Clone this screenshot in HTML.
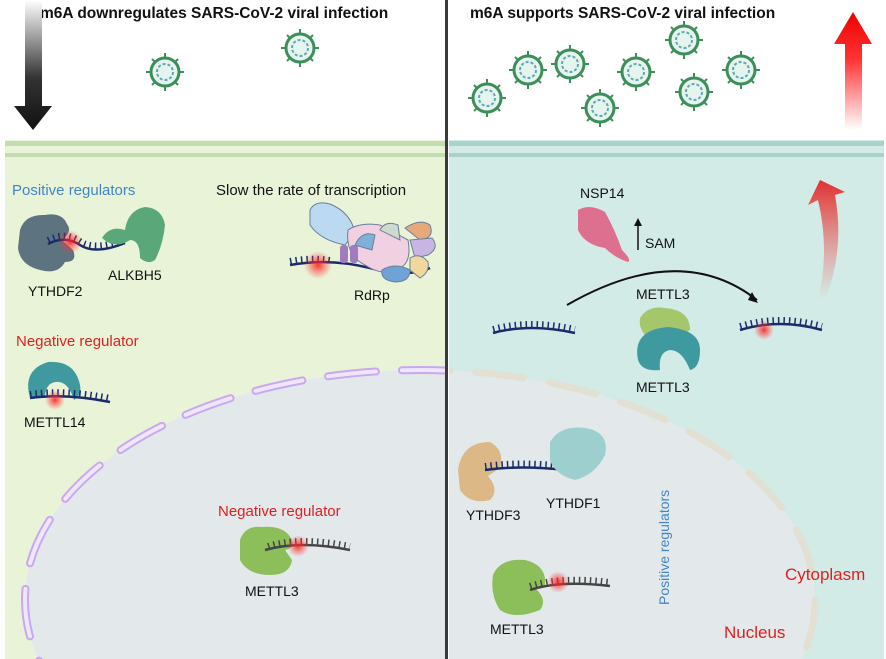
<!DOCTYPE html>
<html><head><meta charset="utf-8"><style>
html,body{margin:0;padding:0;background:#fff;width:886px;height:659px;overflow:hidden}
svg{display:block}
text{font-family:"Liberation Sans",sans-serif}
</style></head><body>
<svg width="886" height="659" viewBox="0 0 886 659" xmlns="http://www.w3.org/2000/svg">
<defs>
<radialGradient id="glow"><stop offset="0" stop-color="#ff2020" stop-opacity="0.9"/><stop offset="1" stop-color="#ff4040" stop-opacity="0"/></radialGradient>
<linearGradient id="down" x1="0" y1="0" x2="0" y2="1"><stop offset="0" stop-color="#fff"/><stop offset="0.6" stop-color="#333"/><stop offset="1" stop-color="#111"/></linearGradient>
<linearGradient id="up" x1="0" y1="1" x2="0" y2="0"><stop offset="0" stop-color="#fff"/><stop offset="0.6" stop-color="#f33"/><stop offset="1" stop-color="#e00"/></linearGradient>
<linearGradient id="curv" x1="0" y1="1" x2="0" y2="0"><stop offset="0" stop-color="#f06060" stop-opacity="0"/><stop offset="1" stop-color="#e03030"/></linearGradient>
<clipPath id="lc"><rect x="5" y="140" width="440" height="519"/></clipPath>
<clipPath id="rc"><rect x="449" y="140" width="435" height="519"/></clipPath>
<g id="vir"><circle r="14" fill="#e6f4f0" stroke="#3d8f5a" stroke-width="3"/><circle r="8" fill="none" stroke="#5fa8b0" stroke-width="2" stroke-dasharray="3 2"/>
<g stroke="#3d8f5a" stroke-width="2"><line x1="0" y1="-14" x2="0" y2="-19"/><line x1="0" y1="14" x2="0" y2="19"/><line x1="-14" y1="0" x2="-19" y2="0"/><line x1="14" y1="0" x2="19" y2="0"/><line x1="10" y1="10" x2="13" y2="13"/><line x1="-10" y1="10" x2="-13" y2="13"/><line x1="10" y1="-10" x2="13" y2="-13"/><line x1="-10" y1="-10" x2="-13" y2="-13"/></g></g>
</defs>
<rect width="886" height="659" fill="#fff"/>
<rect x="5" y="140" width="440" height="519" fill="#e9f3d8"/>
<rect x="449" y="140" width="435" height="519" fill="#d3ebe6"/>
<rect x="5" y="141" width="440" height="5" fill="#c3dcb1"/><rect x="5" y="153" width="440" height="4" fill="#c3dcb1"/>
<rect x="449" y="141" width="435" height="5" fill="#a9d3c8"/><rect x="449" y="153" width="435" height="4" fill="#a9d3c8"/>
<!-- nucleus -->
<g clip-path="url(#lc)"><ellipse cx="420" cy="600" rx="395" ry="230" fill="#e3e9eb"/>
<ellipse cx="420" cy="600" rx="395" ry="230" fill="none" stroke="#c9a8ef" stroke-width="8" stroke-linecap="round" stroke-dasharray="48 26"/>
<ellipse cx="420" cy="600" rx="395" ry="230" fill="none" stroke="#efe6fb" stroke-width="4" stroke-linecap="round" stroke-dasharray="48 26"/></g>
<g clip-path="url(#rc)"><ellipse cx="420" cy="600" rx="395" ry="230" fill="#e3e9eb"/>
<ellipse cx="420" cy="600" rx="395" ry="230" fill="none" stroke="#e2e0d2" stroke-width="7" stroke-linecap="round" stroke-dasharray="48 26"/></g>
<rect x="445" y="0" width="3" height="659" fill="#3a3a3a"/>
<text x="40" y="18" font-size="15.5" font-weight="bold" fill="#111">m6A downregulates SARS-CoV-2 viral infection</text>
<text x="470" y="18" font-size="15.5" font-weight="bold" fill="#111">m6A supports SARS-CoV-2 viral infection</text>
<path d="M25 0 H42 V106 H52 L33 130 L14 106 H25 Z" fill="url(#down)"/>
<path d="M845 40 H862 V130 H845 Z M834 44 L853 12 L872 44 Z" fill="url(#up)"/>
<use href="#vir" x="165" y="72"/><use href="#vir" x="300" y="48"/>
<use href="#vir" x="487" y="98"/><use href="#vir" x="528" y="70"/><use href="#vir" x="570" y="64"/>
<use href="#vir" x="600" y="108"/><use href="#vir" x="636" y="72"/><use href="#vir" x="684" y="40"/>
<use href="#vir" x="694" y="92"/><use href="#vir" x="741" y="70"/>
<text x="12" y="195" font-size="15" fill="#3f86c8">Positive regulators</text>
<text x="216" y="195" font-size="15" fill="#111">Slow the rate of transcription</text>
<path d="M20 230 Q25 214 45 215 Q62 212 67 224 Q73 232 62 240 L73 250 Q78 262 65 262 Q58 275 40 270 Q20 265 18 248 Z" fill="#5d7380"/>
<path d="M48 244 Q65 235 80 245 T125 243" fill="none" stroke="#1a2b6b" stroke-width="2.5"/>
<path d="M48 240 Q65 231 80 241 T125 239" fill="none" stroke="#1a2b6b" stroke-width="6" stroke-dasharray="1.5 4"/>
<circle cx="70" cy="242" r="12" fill="url(#glow)"/>
<path d="M102 238 Q110 225 125 230 Q128 210 145 207 Q162 208 165 225 Q163 245 155 260 Q148 265 140 258 Q140 240 130 240 Q115 250 102 238Z" fill="#5aa87a"/>
<text x="28" y="296" font-size="14" fill="#111">YTHDF2</text>
<text x="108" y="280" font-size="14" fill="#111">ALKBH5</text>
<path d="M290 265 Q330 258 370 268 T430 268" fill="none" stroke="#1a2b6b" stroke-width="2.5"/>
<path d="M290 261 Q310 257 330 260" fill="none" stroke="#1a2b6b" stroke-width="6" stroke-dasharray="1.5 4"/>
<circle cx="318" cy="265" r="14" fill="url(#glow)"/>
<path d="M310 210 Q315 200 330 204 Q350 212 355 232 L345 245 Q320 240 310 225 Z" fill="#bcd9f2" stroke="#6b7f99"/>
<path d="M348 230 Q360 222 380 225 L408 240 Q412 262 400 268 Q385 278 365 265 Q345 255 348 230Z" fill="#f1d0e2" stroke="#6b7f99"/>
<path d="M380 230 Q385 220 398 225 L400 240 Z" fill="#cfdacd" stroke="#6b7f99"/>
<path d="M405 228 Q420 218 430 225 Q435 238 420 240 Z" fill="#e7a87a" stroke="#6b7f99"/>
<path d="M410 240 L432 238 Q440 248 428 255 L415 258Z" fill="#c8b6e2" stroke="#6b7f99"/>
<path d="M410 258 Q420 252 428 262 Q430 272 420 278 L410 270Z" fill="#f1d79b" stroke="#6b7f99"/>
<path d="M355 245 Q362 230 375 235 L372 250 Z" fill="#7fb0d8" stroke="#6b7f99"/>
<rect x="340" y="245" width="8" height="18" rx="3" fill="#a07cbf"/><rect x="350" y="245" width="8" height="18" rx="3" fill="#a07cbf"/>
<path d="M382 270 Q395 262 410 270 Q410 282 395 282 Q380 280 382 270Z" fill="#6fa3d6" stroke="#6b7f99"/>
<text x="354" y="300" font-size="14" fill="#111">RdRp</text>
<text x="16" y="346" font-size="15" fill="#e02020">Negative regulator</text>
<path d="M30 398 Q22 370 48 362 Q75 360 80 385 Q82 395 74 400 Q68 380 55 382 Q45 384 45 398Z" fill="#3f9aa0"/>
<path d="M30 398 Q65 393 110 402" fill="none" stroke="#1a2b6b" stroke-width="2.5"/>
<path d="M30 394 Q65 389 110 398" fill="none" stroke="#1a2b6b" stroke-width="6" stroke-dasharray="1.5 4"/>
<circle cx="55" cy="400" r="10" fill="url(#glow)"/>
<text x="24" y="427" font-size="14" fill="#111">METTL14</text>
<text x="218" y="516" font-size="15" fill="#e02020">Negative regulator</text>
<path d="M240 540 Q245 525 262 527 Q285 525 292 540 Q295 548 285 550 L292 560 Q290 575 270 575 Q248 575 240 560Z" fill="#8cbf5a"/>
<path d="M265 550 Q300 540 350 550" fill="none" stroke="#444" stroke-width="2.5"/>
<path d="M268 546 Q300 536 350 546" fill="none" stroke="#444" stroke-width="6" stroke-dasharray="1.5 4"/>
<circle cx="298" cy="546" r="11" fill="url(#glow)"/>
<text x="245" y="596" font-size="14" fill="#111">METTL3</text>
<text x="580" y="198" font-size="14" fill="#111">NSP14</text>
<path d="M578 210 Q590 203 605 212 Q615 230 622 250 Q632 260 628 262 Q615 258 605 248 Q585 245 578 230Z" fill="#dd6f8f"/>
<path d="M638 250 V222" stroke="#111" stroke-width="1.5"/><path d="M634 226 L638 218 L642 226Z" fill="#111"/>
<text x="645" y="248" font-size="14" fill="#111">SAM</text>
<path d="M567 305 Q680 240 757 300" fill="none" stroke="#111" stroke-width="2"/>
<path d="M748 300 L758 303 L752 292Z" fill="#111"/>
<text x="636" y="299" font-size="14" fill="#111">METTL3</text>
<path d="M640 318 Q648 305 665 308 Q690 310 690 330 Q670 345 650 340 Q638 330 640 318Z" fill="#a3c76a"/>
<path d="M638 360 Q632 330 668 327 Q700 330 700 350 Q700 368 690 370 Q682 350 670 350 Q658 352 660 370 Q642 372 638 360Z" fill="#3f9aa0"/>
<text x="636" y="392" font-size="14" fill="#111">METTL3</text>
<path d="M493 333 Q530 323 575 333" fill="none" stroke="#1a2b6b" stroke-width="2.5"/>
<path d="M493 329 Q530 319 575 329" fill="none" stroke="#1a2b6b" stroke-width="6" stroke-dasharray="1.5 4"/>
<path d="M740 330 Q780 318 822 330" fill="none" stroke="#1a2b6b" stroke-width="2.5"/>
<path d="M740 326 Q780 314 822 326" fill="none" stroke="#1a2b6b" stroke-width="6" stroke-dasharray="1.5 4"/>
<circle cx="764" cy="330" r="10" fill="url(#glow)"/>
<path d="M825 300 Q845 250 835 195 L845 192 L820 180 L808 205 L818 200 Q830 250 818 300Z" fill="url(#curv)"/>
<path d="M458 470 Q462 442 490 442 Q505 450 500 468 L488 476 Q500 490 490 500 Q470 505 460 490Z" fill="#dbb886"/>
<path d="M485 470 Q520 465 565 470" fill="none" stroke="#1a2b6b" stroke-width="2.5"/>
<path d="M485 466 Q520 461 565 466" fill="none" stroke="#1a2b6b" stroke-width="6" stroke-dasharray="1.5 4"/>
<path d="M550 442 Q560 425 585 428 Q610 432 605 455 Q595 475 575 480 Q555 475 550 460Z" fill="#9ecfcf"/>
<text x="466" y="520" font-size="14" fill="#111">YTHDF3</text>
<text x="546" y="508" font-size="14" fill="#111">YTHDF1</text>
<text font-size="14" fill="#3f86c8" transform="translate(669,605) rotate(-90)">Positive regulators</text>
<text x="785" y="580" font-size="17" fill="#e02020">Cytoplasm</text>
<text x="724" y="638" font-size="17" fill="#e02020">Nucleus</text>
<path d="M493 575 Q500 558 525 560 Q547 565 545 585 L535 588 Q548 600 540 610 Q515 620 500 610 Q490 595 493 575Z" fill="#8cbf5a"/>
<path d="M530 590 Q560 580 610 586" fill="none" stroke="#444" stroke-width="2.5"/>
<path d="M530 586 Q560 576 610 582" fill="none" stroke="#444" stroke-width="6" stroke-dasharray="1.5 4"/>
<circle cx="558" cy="582" r="11" fill="url(#glow)"/>
<text x="490" y="634" font-size="14" fill="#111">METTL3</text>
</svg>
</body></html>
